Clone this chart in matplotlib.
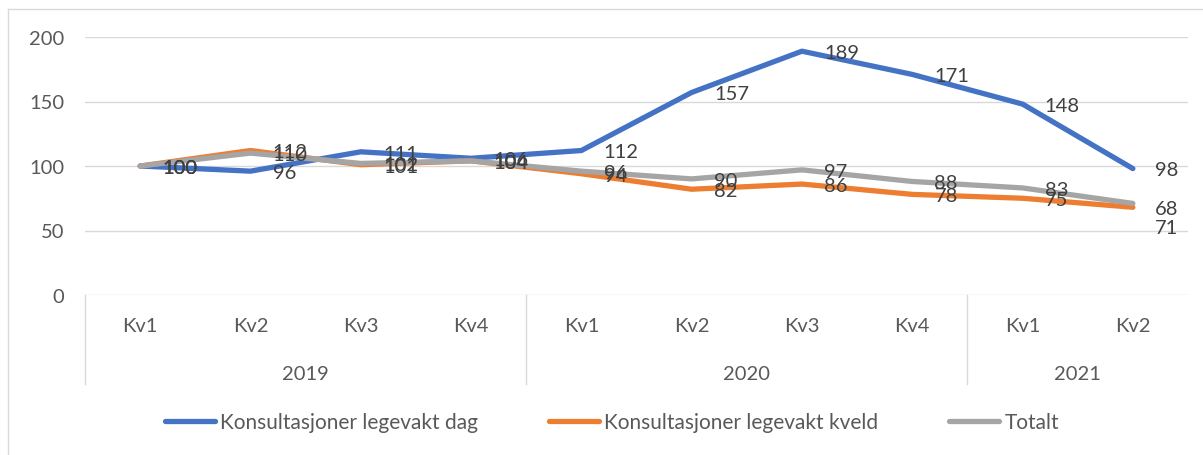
import matplotlib
matplotlib.use("Agg")
import matplotlib.pyplot as plt
from matplotlib.lines import Line2D
import matplotlib.transforms as mtransforms

quarters = ["Kv1", "Kv2", "Kv3", "Kv4", "Kv1", "Kv2", "Kv3", "Kv4", "Kv1", "Kv2"]
years = ["2019", "2020", "2021"]
year_counts = [4, 4, 2]
dag = [100, 96, 111, 106, 112, 157, 189, 171, 148, 98]
kveld = [100, 112, 101, 104, 94, 82, 86, 78, 75, 68]
totalt = [100, 110, 102, 104, 96, 90, 97, 88, 83, 71]
series_names = ["Konsultasjoner legevakt dag", "Konsultasjoner legevakt kveld", "Totalt"]

plt.rcParams['font.family'] = ['Lato', 'DejaVu Sans']

W, H = 1203, 456
fig = plt.figure(figsize=(W / 100, H / 100), dpi=100)
ax = fig.add_axes([85 / W, 1 - 296 / H, (1188 - 85) / W, (296 - 38) / H])

colors = ["#4472C4", "#ED7D31", "#A5A5A5"]
x = list(range(len(quarters)))
for vals, c, name in zip([dag, kveld, totalt], colors, series_names):
    ax.plot(x, vals, color=c, lw=3.8, solid_capstyle='round', solid_joinstyle='round', label=name, zorder=3)

FS = 14.5
ax.set_xlim(-0.5, len(quarters) - 0.5)
ax.set_ylim(0, 200)
ax.set_yticks([0, 50, 100, 150, 200])
ax.yaxis.grid(True, color="#D9D9D9", lw=1)
ax.set_axisbelow(True)
for s in ax.spines.values():
    s.set_visible(False)
ax.tick_params(axis='y', length=0, labelsize=FS, labelcolor="#595959", pad=15)
ax.set_xticks([])

# data labels
for vals in [dag, kveld, totalt]:
    for i, v in enumerate(vals):
        dy = -1
        if vals is totalt and i == len(vals) - 1:
            dy = -17
        ax.annotate(str(v), (i, v), xytext=(16, dy), textcoords='offset points',
                    fontsize=FS, color="#404040", va='center', ha='left', zorder=5)

# category axis
trans = mtransforms.blended_transform_factory(ax.transData, ax.transAxes)
bottom = -(385 - 296) / (296 - 38)
for i, q in enumerate(quarters):
    ax.text(i, -(327 - 296) / (296 - 38), q, transform=trans, ha='center', va='center',
            fontsize=FS, color="#595959")
start = 0
bounds = [-0.5]
for yname, n in zip(years, year_counts):
    center = start + (n - 1) / 2
    ax.text(center, -(375 - 296) / (296 - 38), yname, transform=trans, ha='center', va='center',
            fontsize=FS, color="#595959")
    start += n
    bounds.append(start - 0.5)
for b in bounds[:-1]:
    ax.add_line(Line2D([b, b], [0, bottom], transform=trans, color="#D9D9D9", lw=1, clip_on=False))

# legend
leg = fig.legend(*ax.get_legend_handles_labels(), loc='center', bbox_to_anchor=(612 / W, 1 - 423 / H),
                 ncol=3, frameon=False, fontsize=15, handlelength=2.4, handletextpad=0.25,
                 columnspacing=3.4, labelcolor="#595959")

# chart border
fig.add_artist(Line2D([8 / W, 1], [1 - 10 / H, 1 - 10 / H], transform=fig.transFigure, color="#D9D9D9", lw=1))
fig.add_artist(Line2D([8 / W, 8 / W], [0, 1 - 10 / H], transform=fig.transFigure, color="#D9D9D9", lw=1))

fig.savefig("out.png", dpi=100)
